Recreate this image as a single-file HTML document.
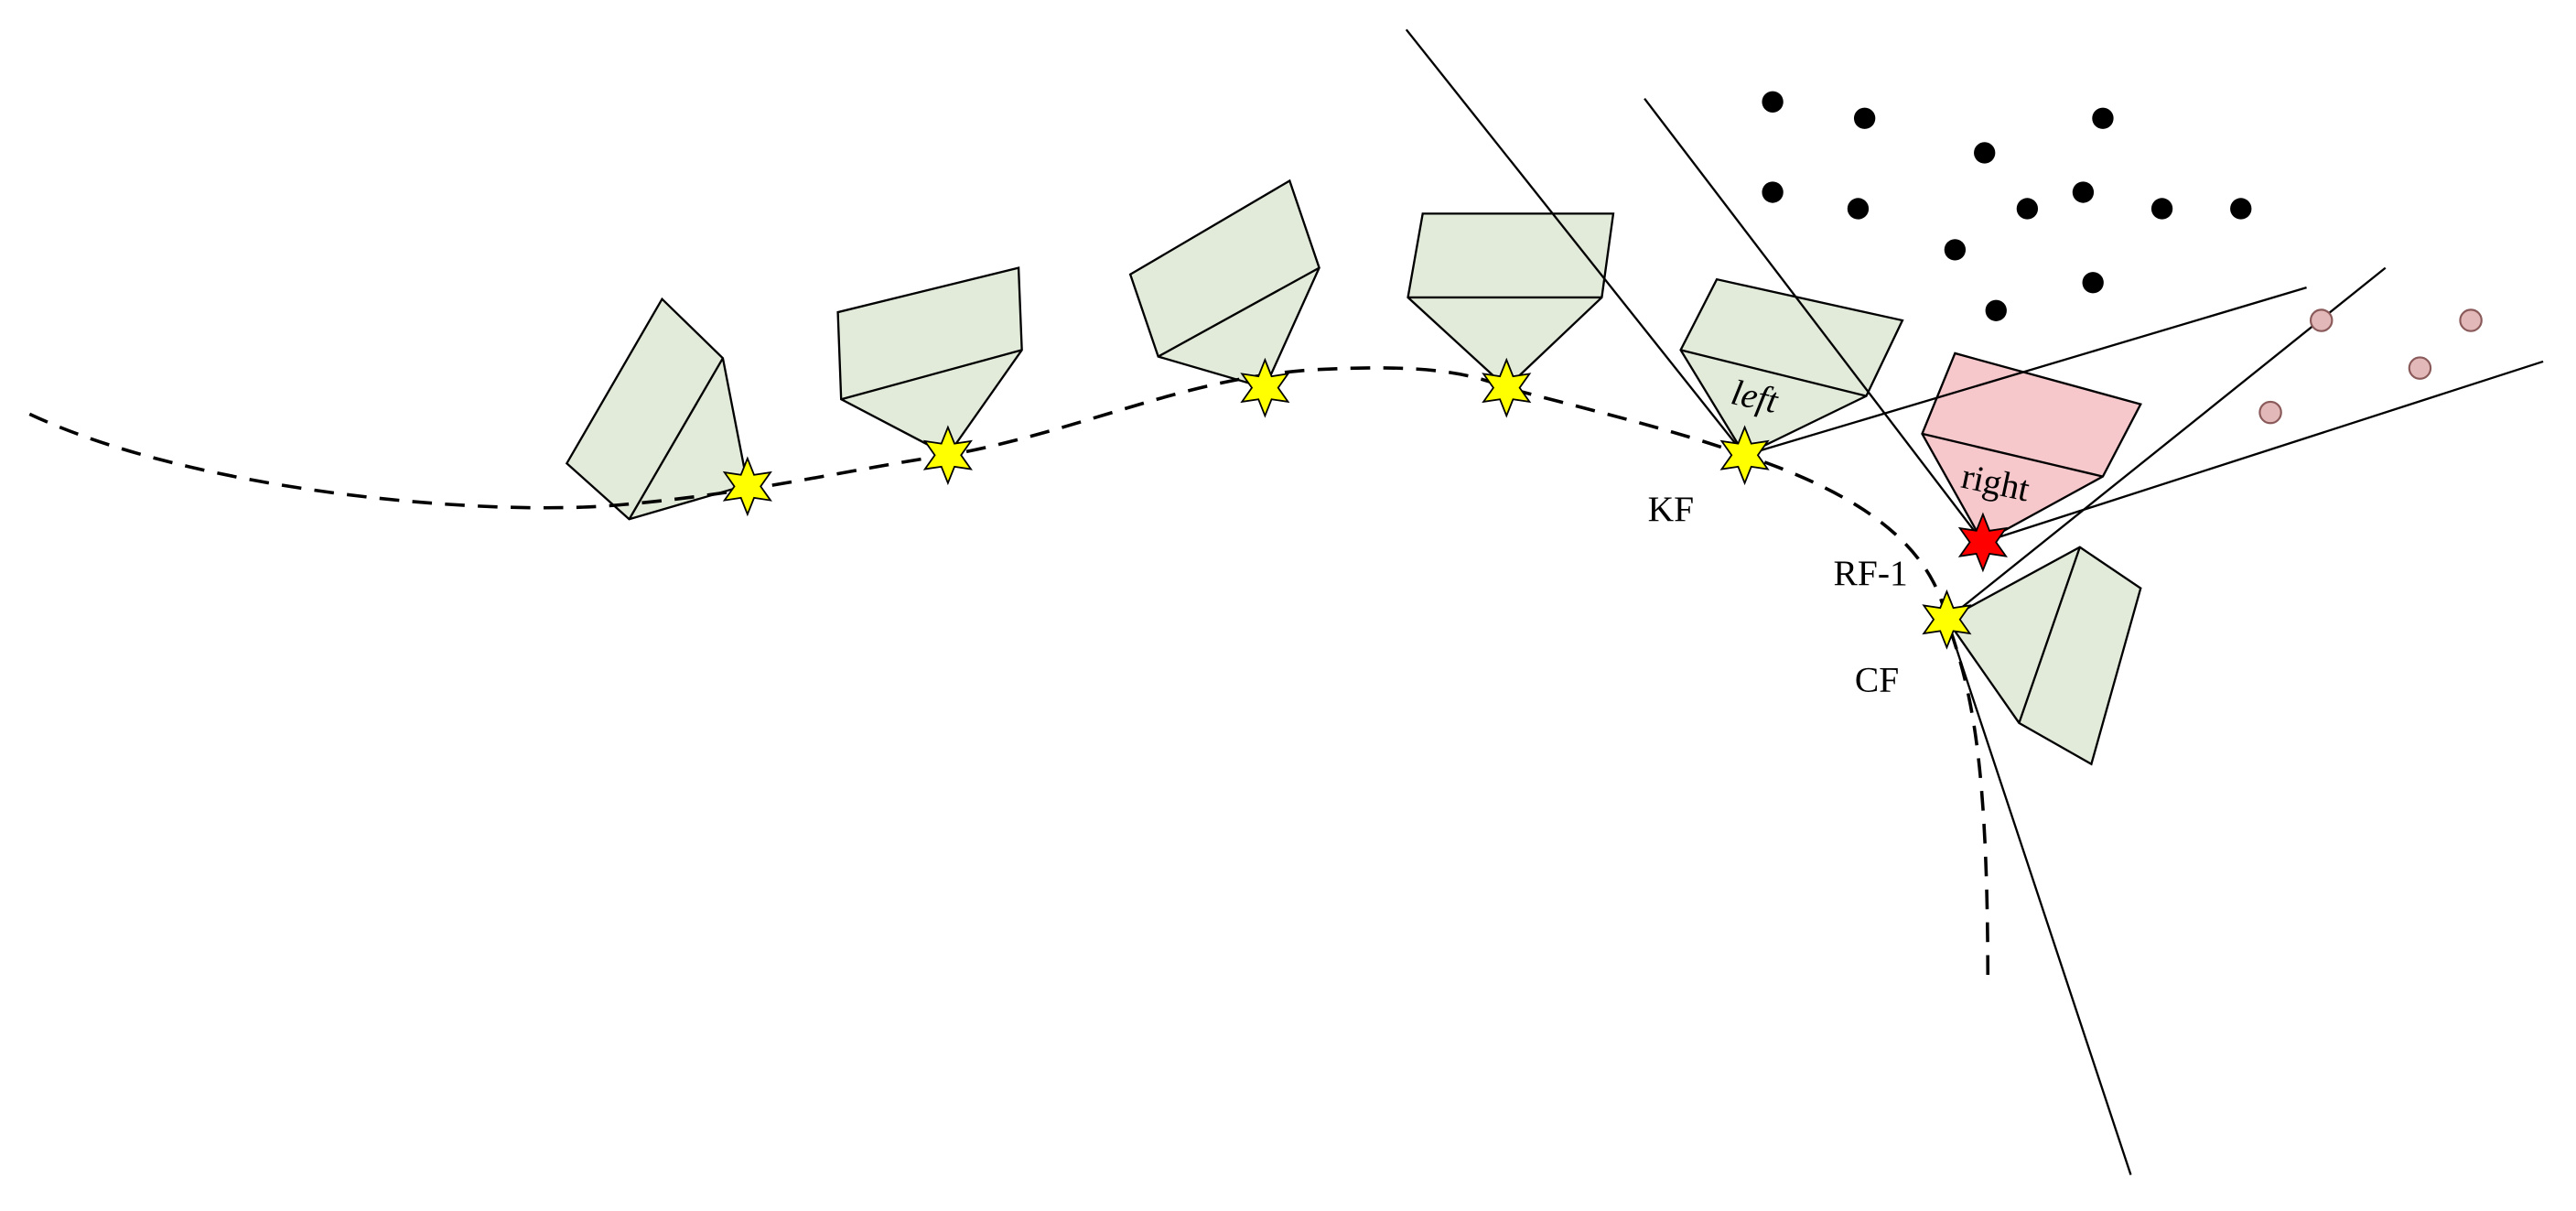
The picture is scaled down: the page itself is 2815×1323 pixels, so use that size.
<!DOCTYPE html>
<html><head><meta charset="utf-8"><style>
html,body{margin:0;padding:0;background:#fff;}
svg{display:block;}
</style></head><body>
<svg width="2815" height="1323" viewBox="0 0 1568 737" preserveAspectRatio="none" xmlns="http://www.w3.org/2000/svg">
<defs>
<polygon id="st" points="0,-17 4,-7 14,-8.5 8,0 14,8.5 4,7 0,17 -4,7 -14,8.5 -8,0 -14,-8.5 -4,-7" stroke="#000" stroke-width="1"/>
</defs>
<g stroke="#000" stroke-width="1.3" stroke-linejoin="miter">
<polygon fill="#e2ebda" points="383,316 345,282 403,182 440,218 455,295"/>
<line x1="383" y1="316" x2="440" y2="218"/>
<polygon fill="#e2ebda" points="512,243 510,190 620,163 622,213 577,277"/>
<line x1="512" y1="243" x2="622" y2="213"/>
<polygon fill="#e2ebda" points="705,217 688,167 785,110 803,163 770,236"/>
<line x1="705" y1="217" x2="803" y2="163"/>
<polygon fill="#e2ebda" points="857,181 866,130 982,130 975,181 917,236"/>
<line x1="857" y1="181" x2="975" y2="181"/>
<polygon fill="#e2ebda" points="1023,213 1045,170 1158,195 1136,241 1062,277"/>
<line x1="1023" y1="213" x2="1136" y2="241"/>
<polygon fill="#f6c8cc" points="1170,264 1190,215 1303,246 1280,290 1207,330"/>
<line x1="1170" y1="264" x2="1280" y2="290"/>
<polygon fill="#e2ebda" points="1185,377 1266,333 1303,358 1273,465 1229,440"/>
<line x1="1266" y1="333" x2="1229" y2="440"/>
</g>
<g fill="none" stroke="#000" stroke-width="1.3">
<line x1="856" y1="18" x2="1062" y2="277"/>
<line x1="1001" y1="60" x2="1207" y2="330"/>
<line x1="1062" y1="277" x2="1404" y2="175"/>
<line x1="1207" y1="330" x2="1548" y2="220"/>
<line x1="1185" y1="377" x2="1452" y2="163"/>
<line x1="1185" y1="377" x2="1297" y2="715"/>
</g>
<path d="M18,252 C120,300 300,315 380,307 C460,300 520,285 577,277 C660,262 720,230 800,225 C860,222 890,225 917,236 C970,250 1020,262 1062,277 C1130,300 1175,330 1185,377 C1200,420 1210,460 1210,600" fill="none" stroke="#000" stroke-width="2" stroke-dasharray="12,8"/>
<g fill="#000">
<circle cx="1079" cy="62" r="6.5"/><circle cx="1135" cy="72" r="6.5"/><circle cx="1280" cy="72" r="6.5"/>
<circle cx="1208" cy="93" r="6.5"/><circle cx="1079" cy="117" r="6.5"/><circle cx="1131" cy="127" r="6.5"/>
<circle cx="1234" cy="127" r="6.5"/><circle cx="1268" cy="117" r="6.5"/><circle cx="1316" cy="127" r="6.5"/>
<circle cx="1364" cy="127" r="6.5"/><circle cx="1190" cy="152" r="6.5"/><circle cx="1274" cy="172" r="6.5"/>
<circle cx="1215" cy="189" r="6.5"/>
</g>
<g fill="#e3b8b8" stroke="#8a5a5a" stroke-width="1.2">
<circle cx="1413" cy="195" r="6.5"/><circle cx="1504" cy="195" r="6.5"/>
<circle cx="1473" cy="224" r="6.5"/><circle cx="1382" cy="251" r="6.5"/>
</g>
<g fill="#ffff00">
<use href="#st" x="455" y="296"/><use href="#st" x="577" y="277"/><use href="#st" x="770" y="236"/>
<use href="#st" x="917" y="236"/><use href="#st" x="1062" y="277"/><use href="#st" x="1185" y="377"/>
</g>
<use href="#st" x="1207" y="330" fill="#ff0000"/>
<g font-family="Liberation Serif, serif" font-size="22" fill="#000">
<text x="1054" y="250" font-style="italic" transform="rotate(12 1075 242)">left</text>
<text x="1194" y="302" transform="rotate(12 1220 294)">right</text>
<text x="1003" y="317">KF</text>
<text x="1116" y="356">RF-1</text>
<text x="1129" y="421">CF</text>
</g>
</svg>
</body></html>
